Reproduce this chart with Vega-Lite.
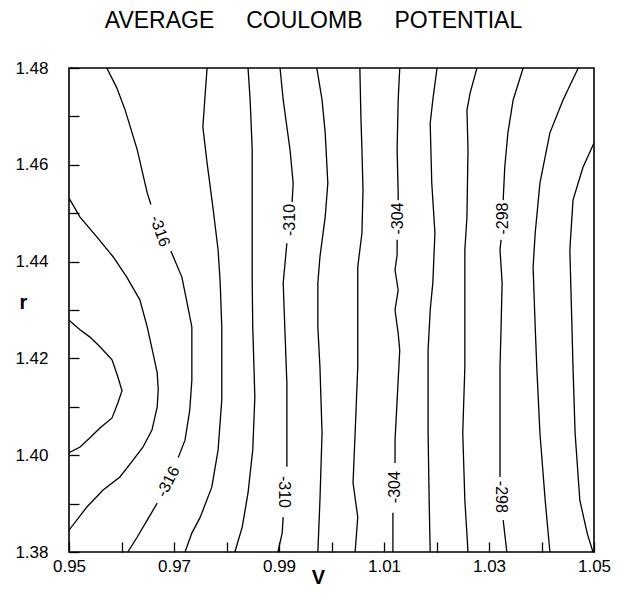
{
  "$schema": "https://vega.github.io/schema/vega-lite/v6.json",
  "width": 525,
  "height": 484,
  "autosize": "none",
  "padding": {"left": 69, "top": 68, "right": 24, "bottom": 42},
  "background": "white",
  "title": {
    "text": "AVERAGE\u00a0\u00a0\u00a0\u00a0\u00a0COULOMB\u00a0\u00a0\u00a0\u00a0\u00a0POTENTIAL",
    "anchor": "middle",
    "frame": "group",
    "font": "Liberation Sans",
    "fontSize": 23,
    "fontWeight": "normal",
    "color": "black",
    "baseline": "bottom",
    "offset": 3,
    "dx": -18
  },
  "config": {
    "view": {"stroke": "black", "strokeWidth": 1.6},
    "axis": {
      "grid": false,
      "domain": false,
      "tickColor": "black",
      "tickWidth": 1.3,
      "tickSize": -10,
      "labelFont": "Liberation Sans",
      "labelFontSize": 17,
      "labelColor": "black",
      "labelFlush": false,
      "labelOverlap": false,
      "titleFont": "Liberation Sans",
      "titleFontSize": 20,
      "titleFontWeight": "bold",
      "titleColor": "black"
    }
  },
  "datasets": {
    "lines": [
      {"s":"C1","i":0,"V":0.95,"r":1.4279},{"s":"C1","i":1,"V":0.9521,"r":1.4259},{"s":"C1","i":2,"V":0.954,"r":1.4244},{"s":"C1","i":3,"V":0.9559,"r":1.4224},{"s":"C1","i":4,"V":0.9582,"r":1.4197},{"s":"C1","i":5,"V":0.9593,"r":1.4162},{"s":"C1","i":6,"V":0.9601,"r":1.4133},{"s":"C1","i":7,"V":0.9593,"r":1.4108},{"s":"C1","i":8,"V":0.9582,"r":1.4077},{"s":"C1","i":9,"V":0.9559,"r":1.4056},{"s":"C1","i":10,"V":0.954,"r":1.4036},{"s":"C1","i":11,"V":0.9521,"r":1.4017},{"s":"C1","i":12,"V":0.95,"r":1.4005},
      {"s":"C2","i":0,"V":0.95,"r":1.4531},{"s":"C2","i":1,"V":0.9521,"r":1.4492},{"s":"C2","i":2,"V":0.9553,"r":1.4451},{"s":"C2","i":3,"V":0.9584,"r":1.441},{"s":"C2","i":4,"V":0.961,"r":1.4368},{"s":"C2","i":5,"V":0.9635,"r":1.4321},{"s":"C2","i":6,"V":0.9649,"r":1.4265},{"s":"C2","i":7,"V":0.966,"r":1.4211},{"s":"C2","i":8,"V":0.9668,"r":1.417},{"s":"C2","i":9,"V":0.967,"r":1.4135},{"s":"C2","i":10,"V":0.9668,"r":1.41},{"s":"C2","i":11,"V":0.9658,"r":1.4052},{"s":"C2","i":12,"V":0.9641,"r":1.4017},{"s":"C2","i":13,"V":0.9622,"r":1.399},{"s":"C2","i":14,"V":0.9597,"r":1.3955},{"s":"C2","i":15,"V":0.9565,"r":1.3928},{"s":"C2","i":16,"V":0.9534,"r":1.3893},{"s":"C2","i":17,"V":0.95,"r":1.3845},
      {"s":"C3a","i":0,"V":0.9572,"r":1.48},{"s":"C3a","i":1,"V":0.9591,"r":1.4759},{"s":"C3a","i":2,"V":0.9607,"r":1.4713},{"s":"C3a","i":3,"V":0.963,"r":1.4631},{"s":"C3a","i":4,"V":0.9649,"r":1.4542},{"s":"C3a","i":5,"V":0.9656,"r":1.4518},
      {"s":"C3b","i":0,"V":0.9694,"r":1.4422},{"s":"C3b","i":1,"V":0.9715,"r":1.4368},{"s":"C3b","i":2,"V":0.9725,"r":1.4314},{"s":"C3b","i":3,"V":0.9734,"r":1.4265},{"s":"C3b","i":4,"V":0.9734,"r":1.4155},{"s":"C3b","i":5,"V":0.973,"r":1.4093},{"s":"C3b","i":6,"V":0.9721,"r":1.4031},{"s":"C3b","i":7,"V":0.9708,"r":1.3995},
      {"s":"C3c","i":0,"V":0.9668,"r":1.3901},{"s":"C3c","i":1,"V":0.9649,"r":1.3866},{"s":"C3c","i":2,"V":0.963,"r":1.3831},{"s":"C3c","i":3,"V":0.9612,"r":1.38},
      {"s":"C4","i":0,"V":0.9763,"r":1.48},{"s":"C4","i":1,"V":0.9759,"r":1.474},{"s":"C4","i":2,"V":0.9755,"r":1.4678},{"s":"C4","i":3,"V":0.9763,"r":1.4604},{"s":"C4","i":4,"V":0.9774,"r":1.4513},{"s":"C4","i":5,"V":0.9784,"r":1.4424},{"s":"C4","i":6,"V":0.9788,"r":1.4356},{"s":"C4","i":7,"V":0.9791,"r":1.4265},{"s":"C4","i":8,"V":0.9791,"r":1.4114},{"s":"C4","i":9,"V":0.9784,"r":1.4011},{"s":"C4","i":10,"V":0.9772,"r":1.3934},{"s":"C4","i":11,"V":0.975,"r":1.3872},{"s":"C4","i":12,"V":0.9734,"r":1.3839},{"s":"C4","i":13,"V":0.9721,"r":1.38},
      {"s":"C5","i":0,"V":0.9841,"r":1.48},{"s":"C5","i":1,"V":0.9845,"r":1.4734},{"s":"C5","i":2,"V":0.9849,"r":1.4631},{"s":"C5","i":3,"V":0.9849,"r":1.4492},{"s":"C5","i":4,"V":0.9849,"r":1.4356},{"s":"C5","i":5,"V":0.985,"r":1.4265},{"s":"C5","i":6,"V":0.9854,"r":1.412},{"s":"C5","i":7,"V":0.985,"r":1.4011},{"s":"C5","i":8,"V":0.9841,"r":1.3922},{"s":"C5","i":9,"V":0.983,"r":1.3852},{"s":"C5","i":10,"V":0.9816,"r":1.38},
      {"s":"C6a","i":0,"V":0.9902,"r":1.48},{"s":"C6a","i":1,"V":0.9908,"r":1.4734},{"s":"C6a","i":2,"V":0.9921,"r":1.4631},{"s":"C6a","i":3,"V":0.9927,"r":1.4562},{"s":"C6a","i":4,"V":0.9925,"r":1.4523},
      {"s":"C6b","i":0,"V":0.9915,"r":1.4438},{"s":"C6b","i":1,"V":0.9908,"r":1.4356},{"s":"C6b","i":2,"V":0.9911,"r":1.4265},{"s":"C6b","i":3,"V":0.9915,"r":1.4149},{"s":"C6b","i":4,"V":0.9915,"r":1.4046},{"s":"C6b","i":5,"V":0.9915,"r":1.3976},
      {"s":"C6c","i":0,"V":0.9908,"r":1.3872},{"s":"C6c","i":1,"V":0.9906,"r":1.3839},{"s":"C6c","i":2,"V":0.9898,"r":1.38},
      {"s":"C7","i":0,"V":0.9972,"r":1.48},{"s":"C7","i":1,"V":0.9982,"r":1.4734},{"s":"C7","i":2,"V":0.9988,"r":1.4666},{"s":"C7","i":3,"V":0.9993,"r":1.4562},{"s":"C7","i":4,"V":0.9988,"r":1.4492},{"s":"C7","i":5,"V":0.9978,"r":1.441},{"s":"C7","i":6,"V":0.9974,"r":1.4356},{"s":"C7","i":7,"V":0.9974,"r":1.4265},{"s":"C7","i":8,"V":0.9978,"r":1.4182},{"s":"C7","i":9,"V":0.9982,"r":1.4046},{"s":"C7","i":10,"V":0.9978,"r":1.3907},{"s":"C7","i":11,"V":0.9974,"r":1.38},
      {"s":"C8","i":0,"V":1.0054,"r":1.48},{"s":"C8","i":1,"V":1.0056,"r":1.4699},{"s":"C8","i":2,"V":1.0058,"r":1.4631},{"s":"C8","i":3,"V":1.006,"r":1.4548},{"s":"C8","i":4,"V":1.0058,"r":1.4459},{"s":"C8","i":5,"V":1.005,"r":1.4389},{"s":"C8","i":6,"V":1.005,"r":1.4265},{"s":"C8","i":7,"V":1.005,"r":1.4182},{"s":"C8","i":8,"V":1.0045,"r":1.4046},{"s":"C8","i":9,"V":1.0041,"r":1.3943},{"s":"C8","i":10,"V":1.005,"r":1.3872},{"s":"C8","i":11,"V":1.0045,"r":1.38},
      {"s":"C9a","i":0,"V":1.013,"r":1.48},{"s":"C9a","i":1,"V":1.0127,"r":1.4734},{"s":"C9a","i":2,"V":1.0125,"r":1.4631},{"s":"C9a","i":3,"V":1.0127,"r":1.4542},{"s":"C9a","i":4,"V":1.0127,"r":1.4527},
      {"s":"C9b","i":0,"V":1.0125,"r":1.4445},{"s":"C9b","i":1,"V":1.0125,"r":1.4414},{"s":"C9b","i":2,"V":1.0121,"r":1.4383},{"s":"C9b","i":3,"V":1.0127,"r":1.4341},{"s":"C9b","i":4,"V":1.0121,"r":1.43},{"s":"C9b","i":5,"V":1.0127,"r":1.4252},{"s":"C9b","i":6,"V":1.013,"r":1.4217},{"s":"C9b","i":7,"V":1.0125,"r":1.4114},{"s":"C9b","i":8,"V":1.0121,"r":1.4031},{"s":"C9b","i":9,"V":1.0121,"r":1.3984},
      {"s":"C9c","i":0,"V":1.0117,"r":1.3881},{"s":"C9c","i":1,"V":1.0117,"r":1.38},
      {"s":"C10","i":0,"V":1.0201,"r":1.48},{"s":"C10","i":1,"V":1.0193,"r":1.4734},{"s":"C10","i":2,"V":1.0188,"r":1.4686},{"s":"C10","i":3,"V":1.0191,"r":1.4562},{"s":"C10","i":4,"V":1.0197,"r":1.4459},{"s":"C10","i":5,"V":1.0193,"r":1.4356},{"s":"C10","i":6,"V":1.0188,"r":1.43},{"s":"C10","i":7,"V":1.0184,"r":1.4217},{"s":"C10","i":8,"V":1.0184,"r":1.4046},{"s":"C10","i":9,"V":1.0186,"r":1.3907},{"s":"C10","i":10,"V":1.0188,"r":1.38},
      {"s":"C11","i":0,"V":1.0277,"r":1.48},{"s":"C11","i":1,"V":1.0264,"r":1.4748},{"s":"C11","i":2,"V":1.0258,"r":1.4713},{"s":"C11","i":3,"V":1.026,"r":1.4631},{"s":"C11","i":4,"V":1.0258,"r":1.4492},{"s":"C11","i":5,"V":1.0254,"r":1.4424},{"s":"C11","i":6,"V":1.0254,"r":1.43},{"s":"C11","i":7,"V":1.0254,"r":1.4182},{"s":"C11","i":8,"V":1.025,"r":1.4046},{"s":"C11","i":9,"V":1.0254,"r":1.3907},{"s":"C11","i":10,"V":1.026,"r":1.38},
      {"s":"C12a","i":0,"V":1.0365,"r":1.48},{"s":"C12a","i":1,"V":1.0346,"r":1.4734},{"s":"C12a","i":2,"V":1.0336,"r":1.4666},{"s":"C12a","i":3,"V":1.033,"r":1.4595},{"s":"C12a","i":4,"V":1.0327,"r":1.4527},
      {"s":"C12b","i":0,"V":1.0323,"r":1.4445},{"s":"C12b","i":1,"V":1.0321,"r":1.4424},{"s":"C12b","i":2,"V":1.0325,"r":1.4356},{"s":"C12b","i":3,"V":1.0323,"r":1.4265},{"s":"C12b","i":4,"V":1.0321,"r":1.4182},{"s":"C12b","i":5,"V":1.0321,"r":1.4011},{"s":"C12b","i":6,"V":1.0321,"r":1.3955},
      {"s":"C12c","i":0,"V":1.0327,"r":1.3866},{"s":"C12c","i":1,"V":1.0334,"r":1.38},
      {"s":"C13","i":0,"V":1.047,"r":1.48},{"s":"C13","i":1,"V":1.0441,"r":1.4734},{"s":"C13","i":2,"V":1.0416,"r":1.4666},{"s":"C13","i":3,"V":1.0397,"r":1.4562},{"s":"C13","i":4,"V":1.0388,"r":1.4459},{"s":"C13","i":5,"V":1.0384,"r":1.4389},{"s":"C13","i":6,"V":1.0388,"r":1.4265},{"s":"C13","i":7,"V":1.0391,"r":1.4182},{"s":"C13","i":8,"V":1.0397,"r":1.4046},{"s":"C13","i":9,"V":1.0407,"r":1.3907},{"s":"C13","i":10,"V":1.0416,"r":1.38},
      {"s":"C14","i":0,"V":1.05,"r":1.4645},{"s":"C14","i":1,"V":1.0479,"r":1.4595},{"s":"C14","i":2,"V":1.046,"r":1.4527},{"s":"C14","i":3,"V":1.0454,"r":1.4424},{"s":"C14","i":4,"V":1.0458,"r":1.4265},{"s":"C14","i":5,"V":1.046,"r":1.4182},{"s":"C14","i":6,"V":1.0464,"r":1.4046},{"s":"C14","i":7,"V":1.0473,"r":1.3907},{"s":"C14","i":8,"V":1.0487,"r":1.3839},{"s":"C14","i":9,"V":1.0498,"r":1.38}
    ],
    "labels": [
      {"k":"up","t":"-310","V":0.9921,"r":1.4486},
      {"k":"up","t":"-304","V":1.0126,"r":1.4489},
      {"k":"up","t":"-304","V":1.0121,"r":1.3934},
      {"k":"up","t":"-298","V":1.0326,"r":1.4489},
      {"k":"down","t":"-310","V":0.991,"r":1.3924},
      {"k":"down","t":"-298","V":1.0323,"r":1.3914},
      {"k":"diagdown","t":"-316","V":0.9673,"r":1.4463},
      {"k":"diagup","t":"-316","V":0.9689,"r":1.3945}
    ]
  },
  "encoding": {
    "x": {
      "field": "V",
      "type": "quantitative",
      "scale": {"domain": [0.95, 1.05], "nice": false, "zero": false},
      "axis": {
        "title": "V",
        "values": [0.95, 0.96, 0.97, 0.98, 0.99, 1.0, 1.01, 1.02, 1.03, 1.04, 1.05],
        "labelExpr": "round(datum.value*100)%2==1 ? format(datum.value,'.2f') : ''",
        "labelPadding": 16,
        "titleX": 249,
        "titleY": 31,
        "titleAlign": "center",
        "titleBaseline": "alphabetic"
      }
    },
    "y": {
      "field": "r",
      "type": "quantitative",
      "scale": {"domain": [1.38, 1.48], "nice": false, "zero": false},
      "axis": {
        "title": "r",
        "values": [1.38, 1.39, 1.4, 1.41, 1.42, 1.43, 1.44, 1.45, 1.46, 1.47, 1.48],
        "labelExpr": "round(datum.value*100)%2==0 ? format(datum.value,'.2f') : ''",
        "labelPadding": 31,
        "titleAngle": 0,
        "titleX": -46,
        "titleY": 240,
        "titleAlign": "center",
        "titleBaseline": "alphabetic"
      }
    }
  },
  "layer": [
    {
      "data": {"name": "lines"},
      "mark": {"type": "line", "stroke": "black", "strokeWidth": 1.3, "clip": true},
      "encoding": {
        "detail": {"field": "s"},
        "order": {"field": "i", "type": "quantitative"}
      }
    },
    {
      "data": {"name": "labels"},
      "transform": [{"filter": "datum.k == 'up'"}],
      "mark": {"type": "text", "font": "Liberation Sans", "fontSize": 16, "angle": 270, "align": "center", "baseline": "middle", "color": "black"},
      "encoding": {"text": {"field": "t"}}
    },
    {
      "data": {"name": "labels"},
      "transform": [{"filter": "datum.k == 'down'"}],
      "mark": {"type": "text", "font": "Liberation Sans", "fontSize": 16, "angle": 90, "align": "center", "baseline": "middle", "color": "black"},
      "encoding": {"text": {"field": "t"}}
    },
    {
      "data": {"name": "labels"},
      "transform": [{"filter": "datum.k == 'diagdown'"}],
      "mark": {"type": "text", "font": "Liberation Sans", "fontSize": 16, "angle": 70, "align": "center", "baseline": "middle", "color": "black"},
      "encoding": {"text": {"field": "t"}}
    },
    {
      "data": {"name": "labels"},
      "transform": [{"filter": "datum.k == 'diagup'"}],
      "mark": {"type": "text", "font": "Liberation Sans", "fontSize": 16, "angle": 297, "align": "center", "baseline": "middle", "color": "black"},
      "encoding": {"text": {"field": "t"}}
    }
  ]
}
